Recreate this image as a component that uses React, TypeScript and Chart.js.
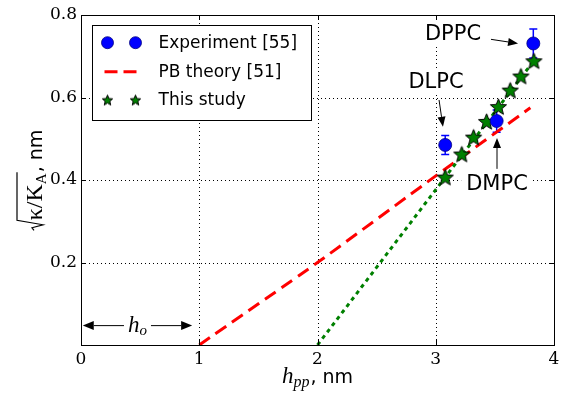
import { useEffect, useRef } from 'react';
import { Chart, registerables } from 'chart.js';

Chart.register(...registerables);

// ---- data ----
const expX = [3.08, 3.515, 3.825];
const expY = [0.485, 0.543, 0.731];
const expErr = [0.023, 0.027, 0.035];
const pbX = [1, 2, 3, 3.8];
const pbY = [0, 0.2, 0.41, 0.575];
const studyX = [3.08, 3.22, 3.32, 3.43, 3.53, 3.63, 3.72, 3.83];
const studyY = [0.407, 0.463, 0.504, 0.542, 0.578, 0.618, 0.652, 0.689];
const fitX = [2.0, 3.84];
const fitY = [0, 0.693];
const xTicks = [0, 1, 2, 3, 4];
const yTicks = [0, 0.2, 0.4, 0.6, 0.8];
const seriesLabels = ['Experiment [55]', 'PB theory [51]', 'This study'];
const lipidNames = ['DPPC', 'DLPC', 'DMPC'];

// annotation placement (data units)
const lipidTextPos = [[3.146, 0.756], [3.002, 0.638], [3.518, 0.391]];
const lipidArrowFrom = [[3.467, 0.741], [3.028, 0.594], [3.518, 0.427]];
const lipidArrowTo = [[3.696, 0.731], [3.061, 0.529], [3.518, 0.502]];
const hoArrow = [0.015, 0.94, 0.047];

const SANS = '"DejaVu Sans", sans-serif';
const SERIF = '"Liberation Serif", serif';
const TICKFONT = '"DejaVu Serif", serif';

function makeStar(r: number, fill: string, stroke: string) {
  const c = document.createElement('canvas');
  const s = Math.ceil(r * 2 + 4);
  c.width = s;
  c.height = s;
  const g = c.getContext('2d')!;
  g.translate(s / 2, s / 2 + r * 0.1);
  g.beginPath();
  for (let i = 0; i < 10; i++) {
    const rr = i % 2 === 0 ? r : r * 0.44;
    const a = -Math.PI / 2 + (i * Math.PI) / 5;
    g.lineTo(rr * Math.cos(a), rr * Math.sin(a));
  }
  g.closePath();
  g.fillStyle = fill;
  g.fill();
  g.strokeStyle = stroke;
  g.lineWidth = 1;
  g.stroke();
  return c;
}

function drawArrow(ctx: CanvasRenderingContext2D, x1: number, y1: number, x2: number, y2: number, head = 10, w = 4) {
  const ang = Math.atan2(y2 - y1, x2 - x1);
  const bx = x2 - head * Math.cos(ang);
  const by = y2 - head * Math.sin(ang);
  ctx.beginPath();
  ctx.moveTo(x1, y1);
  ctx.lineTo(bx, by);
  ctx.stroke();
  ctx.beginPath();
  ctx.moveTo(x2, y2);
  ctx.lineTo(bx + w * Math.sin(ang), by - w * Math.cos(ang));
  ctx.lineTo(bx - w * Math.sin(ang), by + w * Math.cos(ang));
  ctx.closePath();
  ctx.fill();
}

export default function App() {
  const ref = useRef<HTMLCanvasElement>(null);
  useEffect(() => {
    document.body.style.margin = '0';
    const starBig = makeStar(8.5, '#008000', '#000');
    const starSmall = makeStar(5.5, '#008000', '#000');

    const custom = {
      id: 'custom',
      beforeDatasetsDraw(chart: any) {
        const { ctx, chartArea: a, scales } = chart;
        const x = scales.x, y = scales.y;
        ctx.save();
        ctx.strokeStyle = '#000';
        ctx.lineWidth = 1;
        ctx.setLineDash([1, 3]);
        xTicks.filter(v => v > xTicks[0] && v < xTicks[xTicks.length - 1]).forEach(v => {
          const px = Math.round(x.getPixelForValue(v)) + 0.5;
          ctx.beginPath(); ctx.moveTo(px, a.top); ctx.lineTo(px, a.bottom); ctx.stroke();
        });
        yTicks.filter(v => v > yTicks[0] && v < yTicks[yTicks.length - 1]).forEach(v => {
          const py = Math.round(y.getPixelForValue(v)) + 0.5;
          ctx.beginPath(); ctx.moveTo(a.left, py); ctx.lineTo(a.right, py); ctx.stroke();
        });
        ctx.setLineDash([]);
        // error bars
        ctx.strokeStyle = '#0000ff';
        ctx.lineWidth = 1.5;
        expX.forEach((xv, i) => {
          const px = x.getPixelForValue(xv);
          const p1 = y.getPixelForValue(expY[i] - expErr[i]);
          const p2 = y.getPixelForValue(expY[i] + expErr[i]);
          ctx.beginPath();
          ctx.moveTo(px, p1); ctx.lineTo(px, p2);
          ctx.moveTo(px - 4, p1); ctx.lineTo(px + 4, p1);
          ctx.moveTo(px - 4, p2); ctx.lineTo(px + 4, p2);
          ctx.stroke();
        });
        ctx.restore();
      },
      afterDatasetsDraw(chart: any) {
        const { ctx, chartArea: a, scales } = chart;
        const x = scales.x, y = scales.y;
        ctx.save();
        // frame
        ctx.strokeStyle = '#000';
        ctx.lineWidth = 1;
        ctx.strokeRect(Math.round(a.left) + 0.5, Math.round(a.top) + 0.5, Math.round(a.right - a.left), Math.round(a.bottom - a.top));
        // inward ticks
        xTicks.forEach(v => {
          const px = Math.round(x.getPixelForValue(v)) + 0.5;
          ctx.beginPath();
          ctx.moveTo(px, a.bottom); ctx.lineTo(px, a.bottom - 5);
          ctx.moveTo(px, a.top); ctx.lineTo(px, a.top + 5);
          ctx.stroke();
        });
        yTicks.forEach(v => {
          const py = Math.round(y.getPixelForValue(v)) + 0.5;
          ctx.beginPath();
          ctx.moveTo(a.left, py); ctx.lineTo(a.left + 5, py);
          ctx.moveTo(a.right, py); ctx.lineTo(a.right - 5, py);
          ctx.stroke();
        });

        // lipid annotations
        ctx.font = `21px ${SANS}`;
        ctx.textAlign = 'center';
        ctx.textBaseline = 'middle';
        ctx.fillStyle = '#000';
        lipidNames.forEach((name, i) => {
          const tx = x.getPixelForValue(lipidTextPos[i][0]);
          const ty = y.getPixelForValue(lipidTextPos[i][1]);
          const w = ctx.measureText(name).width;
          ctx.fillStyle = '#fff';
          ctx.fillRect(tx - w / 2 - 5, ty - 13, w + 10, 26);
          ctx.fillStyle = '#000';
          ctx.fillText(name, tx, ty + 1);
          drawArrow(ctx,
            x.getPixelForValue(lipidArrowFrom[i][0]), y.getPixelForValue(lipidArrowFrom[i][1]),
            x.getPixelForValue(lipidArrowTo[i][0]), y.getPixelForValue(lipidArrowTo[i][1]));
        });

        // h_o arrow
        const hx1 = x.getPixelForValue(hoArrow[0]);
        const hx2 = x.getPixelForValue(hoArrow[1]);
        const hy = y.getPixelForValue(hoArrow[2]);
        const hc = (hx1 + hx2) / 2;
        drawArrow(ctx, hc, hy, hx1, hy, 11, 4.5);
        drawArrow(ctx, hc, hy, hx2, hy, 11, 4.5);
        ctx.font = `italic 23px ${SERIF}`;
        const wh = ctx.measureText('h').width;
        ctx.font = `italic 15px ${SERIF}`;
        const wo = ctx.measureText('o').width;
        const tw = wh + wo;
        ctx.fillStyle = '#fff';
        ctx.fillRect(hc - tw / 2 - 4, hy - 14, tw + 8, 26);
        ctx.fillStyle = '#000';
        ctx.textAlign = 'left';
        ctx.textBaseline = 'alphabetic';
        ctx.font = `italic 23px ${SERIF}`;
        ctx.fillText('h', hc - tw / 2, hy + 6);
        ctx.font = `italic 15px ${SERIF}`;
        ctx.fillText('o', hc - tw / 2 + wh, hy + 9);

        // legend
        const lx = a.left + 11, ly = a.top + 10, lw = 219, lh = 95;
        ctx.fillStyle = '#fff';
        ctx.fillRect(lx, ly, lw, lh);
        ctx.strokeStyle = '#000';
        ctx.lineWidth = 1;
        ctx.strokeRect(Math.round(lx) + 0.5, Math.round(ly) + 0.5, lw, lh);
        const rows = [ly + 17.7, ly + 46.7, ly + 75];
        const m1 = lx + 15.5, m2 = lx + 43.5;
        // row 1: circles
        [m1, m2].forEach(mx => {
          ctx.beginPath();
          ctx.arc(mx, rows[0], 6, 0, Math.PI * 2);
          ctx.fillStyle = '#0000ff';
          ctx.fill();
          ctx.strokeStyle = '#000080';
          ctx.lineWidth = 0.8;
          ctx.stroke();
        });
        // row 2: dashed red
        ctx.strokeStyle = '#ff0000';
        ctx.lineWidth = 3;
        ctx.setLineDash([13, 6]);
        ctx.beginPath();
        ctx.moveTo(lx + 12.5, rows[1]);
        ctx.lineTo(lx + 45.5, rows[1]);
        ctx.stroke();
        ctx.setLineDash([]);
        // row 3: stars
        [m1, m2].forEach(mx => {
          ctx.drawImage(starSmall, mx - starSmall.width / 2, rows[2] - starSmall.height / 2);
        });
        ctx.fillStyle = '#000';
        ctx.font = `17px ${SANS}`;
        ctx.textAlign = 'left';
        ctx.textBaseline = 'middle';
        seriesLabels.forEach((t, i) => ctx.fillText(t, lx + 66.5, rows[i] + 1));

        // x title: h_pp, nm
        const xc = (a.left + a.right) / 2;
        const xb = 383;
        ctx.textBaseline = 'alphabetic';
        ctx.font = `italic 23px ${SERIF}`;
        const w1 = ctx.measureText('h').width;
        ctx.font = `italic 16px ${SERIF}`;
        const w2 = ctx.measureText('pp').width + 1;
        ctx.font = `19px ${SANS}`;
        const w3 = ctx.measureText(', nm').width;
        let sx = xc - (w1 + w2 + w3) / 2;
        ctx.font = `italic 23px ${SERIF}`;
        ctx.fillText('h', sx, xb);
        sx += w1;
        ctx.font = `italic 16px ${SERIF}`;
        ctx.fillText('pp', sx, xb + 4);
        sx += w2;
        ctx.font = `19px ${SANS}`;
        ctx.fillText(', nm', sx, xb);

        // y title: sqrt(kappa/K_A), nm
        ctx.save();
        ctx.translate(42, (a.top + a.bottom) / 2);
        ctx.rotate(-Math.PI / 2);
        ctx.font = `24px ${SERIF}`;
        const wk = ctx.measureText('κ').width;
        const ws = ctx.measureText('/').width;
        const wK = ctx.measureText('K').width;
        ctx.font = `15px ${SERIF}`;
        const wA = ctx.measureText('A').width;
        ctx.font = `19px ${SANS}`;
        const wn = ctx.measureText(', nm').width;
        const rad = 10;
        const total = rad + wk + ws + wK + wA + 1 + wn;
        let u = -total / 2;
        const ovEnd = u + rad + wk + ws + wK + wA + 1;
        ctx.strokeStyle = '#000';
        ctx.lineWidth = 1.2;
        ctx.beginPath();
        ctx.moveTo(u, -8);
        ctx.lineTo(u + 2.5, -10);
        ctx.lineTo(u + 5.5, 1);
        ctx.lineTo(u + rad, -25);
        ctx.lineTo(ovEnd, -25);
        ctx.stroke();
        u += rad;
        ctx.fillStyle = '#000';
        ctx.font = `24px ${SERIF}`;
        ctx.fillText('κ', u, 0);
        u += wk;
        ctx.fillText('/', u, 0);
        u += ws;
        ctx.fillText('K', u, 0);
        u += wK;
        ctx.font = `15px ${SERIF}`;
        ctx.fillText('A', u, 4);
        u += wA + 1;
        ctx.font = `19px ${SANS}`;
        ctx.fillText(', nm', u, 0);
        ctx.restore();

        ctx.restore();
      },
    };

    const chart = new Chart(ref.current!, {
      type: 'scatter',
      data: {
        datasets: [
          {
            label: seriesLabels[0],
            data: expX.map((v, i) => ({ x: v, y: expY[i] })),
            pointStyle: 'circle',
            pointRadius: 6.5,
            backgroundColor: '#0000ff',
            borderColor: '#000080',
            borderWidth: 0.8,
            order: 0,
          },
          {
            label: seriesLabels[2],
            data: studyX.map((v, i) => ({ x: v, y: studyY[i] })),
            pointStyle: starBig,
            pointRadius: 8,
            order: 1,
          },
          {
            label: 'fit',
            data: fitX.map((v, i) => ({ x: v, y: fitY[i] })),
            showLine: true,
            pointRadius: 0,
            borderColor: '#008000',
            borderWidth: 3,
            borderDash: [4, 4],
            order: 2,
          },
          {
            label: seriesLabels[1],
            data: pbX.map((v, i) => ({ x: v, y: pbY[i] })),
            showLine: true,
            pointRadius: 0,
            borderColor: '#ff0000',
            borderWidth: 3,
            borderDash: [13, 7],
            tension: 0.2,
            order: 3,
          },
        ],
      },
      options: {
        responsive: false,
        animation: false,
        events: [],
        layout: { padding: { left: 0, right: 17, top: 15, bottom: 0 } },
        plugins: { legend: { display: false }, tooltip: { enabled: false } },
        scales: {
          x: {
            type: 'linear',
            min: xTicks[0],
            max: xTicks[xTicks.length - 1],
            grid: { display: false, drawTicks: false },
            border: { display: false },
            afterBuildTicks: (s: any) => { s.ticks = xTicks.map(v => ({ value: v })); },
            afterFit: (s: any) => { s.height = 56; },
            ticks: {
              color: '#000',
              padding: 4,
              font: { family: TICKFONT, size: 17 },
              callback: (v: any) => String(v),
            },
          },
          y: {
            type: 'linear',
            min: yTicks[0],
            max: yTicks[yTicks.length - 1],
            grid: { display: false, drawTicks: false },
            border: { display: false },
            afterBuildTicks: (s: any) => { s.ticks = yTicks.map(v => ({ value: v })); },
            afterFit: (s: any) => { s.width = 81; },
            ticks: {
              color: '#000',
              padding: 4,
              font: { family: TICKFONT, size: 17 },
              callback: (v: any) => (v === 0 ? '' : Number(v).toFixed(1)),
            },
          },
        },
      },
      plugins: [custom],
    } as any);
    return () => chart.destroy();
  }, []);
  return <canvas ref={ref} width={571} height={401} style={{ display: 'block' }} />;
}
